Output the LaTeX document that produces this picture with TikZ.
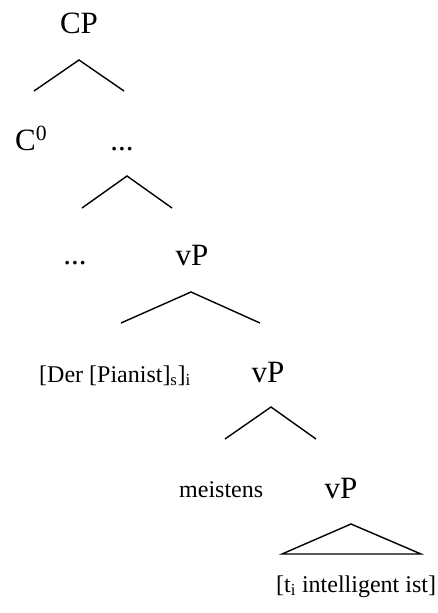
\documentclass[tikz,border=0pt]{standalone}
\usepackage{fontspec}
\setmainfont{Liberation Serif}
\tikzset{
  big/.style={inner sep=0pt, font=\fontsize{31}{36}\selectfont},
  small/.style={inner sep=0pt, font=\fontsize{24}{28}\selectfont},
  branch/.style={line width=1.4pt, line join=miter}
}
\begin{document}
\begin{tikzpicture}[x=1pt,y=-1pt]
\useasboundingbox (0,0) rectangle (438,613);
% labels
\node[big, anchor=base] (cp) at (79,33) {CP};
\node[big, anchor=base west] (c0) at (15,150) {C\textsuperscript{0}};
\node[big, anchor=base] (d1) at (122,150) {...};
\node[big, anchor=base] (d2) at (75,264) {...};
\node[big, anchor=base] (vp1) at (192,265) {vP};
\node[small, anchor=base west] (der) at (39,382) {[Der [Pianist]\textsubscript{s}]\textsubscript{i}};
\node[big, anchor=base] (vp2) at (268,382) {vP};
\node[small, anchor=base west] (mei) at (179,497) {meistens};
\node[big, anchor=base] (vp3) at (341,498) {vP};
\node[small, anchor=base west] (trace) at (276,592) {[t\textsubscript{i} intelligent ist]};
% branch points
\coordinate (a1) at (79,60);
\coordinate (l1) at (34,91);
\coordinate (r1) at (124,91);
\coordinate (a2) at (127,176);
\coordinate (l2) at (82,208);
\coordinate (r2) at (172,208);
\coordinate (a3) at (191,292);
\coordinate (l3) at (121,323);
\coordinate (r3) at (260,323);
\coordinate (a4) at (271,407);
\coordinate (l4) at (225,439);
\coordinate (r4) at (316,439);
\coordinate (a5) at (351,524);
\coordinate (l5) at (282,554);
\coordinate (r5) at (421,554);
\draw[branch] (l1) -- (a1) -- (r1);
\draw[branch] (l2) -- (a2) -- (r2);
\draw[branch] (l3) -- (a3) -- (r3);
\draw[branch] (l4) -- (a4) -- (r4);
\draw[branch] (l5) -- (a5) -- (r5) -- cycle;
\end{tikzpicture}
\end{document}
